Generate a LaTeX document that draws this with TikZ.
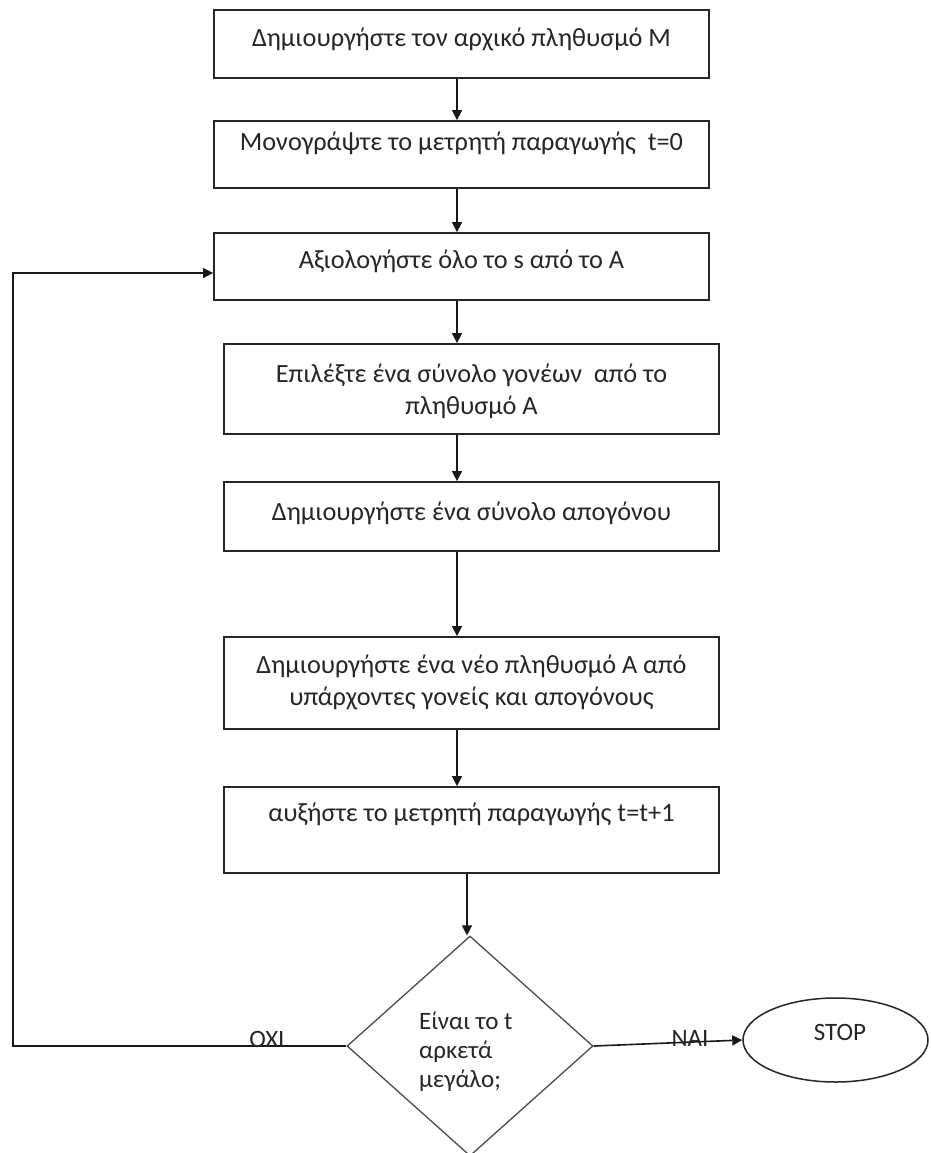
\documentclass[tikz,border=0pt]{standalone}
\usepackage{fontspec}
\setmainfont{Carlito}
\usetikzlibrary{shapes.geometric,arrows.meta,calc}
\begin{document}
\begin{tikzpicture}[x=1pt,y=-1pt,
  box/.style={draw=black!85, line width=1.8pt, rectangle, inner sep=0pt,
    minimum width=495pt},
  txt/.style={font=\fontsize{26.3}{32}\selectfont, text=black!85, align=center, inner sep=0pt},
  lbl/.style={font=\fontsize{25}{29}\selectfont, text=black!85, inner sep=0pt},
  arr/.style={draw=black!90, line width=1.6pt, -{Triangle[length=10pt,width=10pt]}}]

% canvas
\path[use as bounding box, fill=white] (0,0) rectangle (930,1153);

% process boxes
\node[box, minimum height=68pt] (b1) at (461.5,44) {};
\node[box, minimum height=67pt] (b2) at (461.5,154.5) {};
\node[box, minimum height=67pt] (b3) at (461.5,266.5) {};
\node[box, minimum height=90pt] (b4) at (471.5,389) {};
\node[box, minimum height=69pt] (b5) at (471.5,516.5) {};
\node[box, minimum height=92pt] (b6) at (471.5,683) {};
\node[box, minimum height=86pt] (b7) at (471.5,830) {};

\node[txt] (t1) at (461.5,39) {Δημιουργήστε τον αρχικό πληθυσμό M};
\node[txt] (t2) at (461.5,143) {Μονογράψτε το μετρητή παραγωγής\ \ t=0};
\node[txt] (t3) at (461.5,261) {Αξιολογήστε όλο το s από το A};
\node[txt] (t4) at (471.5,391) {Επιλέξτε ένα σύνολο γονέων\ \ από το\\πληθυσμό A};
\node[txt] (t5) at (471.5,513) {Δημιουργήστε ένα σύνολο απογόνου};
\node[txt] (t6) at (471.5,682) {Δημιουργήστε ένα νέο πληθυσμό A από\\υπάρχοντες γονείς και απογόνους};
\node[txt] (t7) at (471.5,814) {αυξήστε το μετρητή παραγωγής t=t+1};

% decision and end
\node[draw=black!70, line width=1.3pt, diamond, aspect=1.12,
  minimum width=246pt, minimum height=220pt, inner sep=0pt] (d) at (470,1046) {};
\node[lbl, align=left, anchor=west] (dt) at (419,1052) {Είναι το t\\αρκετά\\μεγάλο;};
\node[draw=black!85, line width=1.5pt, ellipse, minimum width=185pt,
  minimum height=84pt, inner sep=0pt] (stop) at (835.5,1040) {};
\node[lbl] (stopt) at (840,1032) {STOP};

% flow
\coordinate (ax) at (457,0);
\draw[arr] (b1.south -| ax) -- (b2.north -| ax);
\draw[arr] (b2.south -| ax) -- (b3.north -| ax);
\draw[arr] (b3.south -| ax) -- (b4.north -| ax);
\draw[arr] (b4.south -| ax) -- (b5.north -| ax);
\draw[arr] (b5.south -| ax) -- (b6.north -| ax);
\draw[arr] (b6.south -| ax) -- (b7.north -| ax);
\coordinate (bx) at (467,0);
\draw[arr] (b7.south -| bx) -- (d.north -| bx);

% loop back on OXI
\coordinate (lc) at (13,1046);
\coordinate (lt) at (13,273);
\draw[arr] (d.west) -- (lc) -- (lt) -- (lt -| b3.west);
\node[lbl] (oxi) at (267,1039) {OXI};

% exit on NAI
\draw[arr] (d.east) -- (stop.west);
\node[lbl] (nai) at (690,1038) {NAI};
\end{tikzpicture}
\end{document}
